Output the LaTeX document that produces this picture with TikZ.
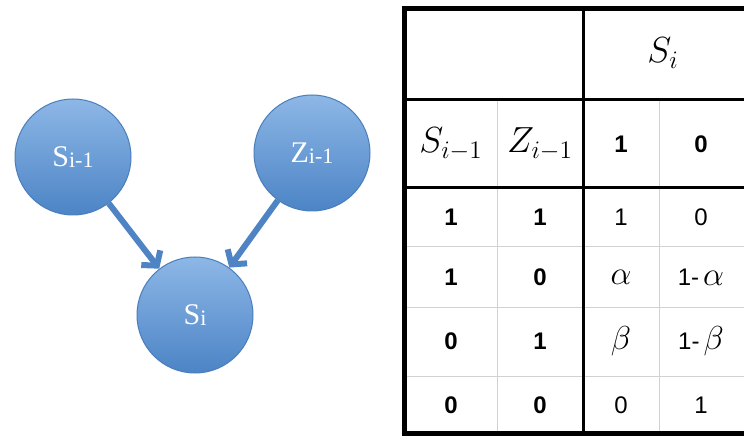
\documentclass[tikz,border=0pt]{standalone}
\usepackage{fontspec}
\setmainfont{Liberation Serif}
\setsansfont{Liberation Sans}
\usetikzlibrary{arrows.meta}
\definecolor{balltop}{HTML}{8DB7E6}
\definecolor{ballbot}{HTML}{4C84C6}
\definecolor{ballline}{HTML}{4A7EBB}
\definecolor{edgeblue}{HTML}{4F84C4}
\definecolor{gridgray}{HTML}{D2D2D2}
\newcommand{\bigsym}[1]{\scalebox{1.75}{\fontsize{20.74}{24}\selectfont$#1$}}
\newcommand{\greekcell}[1]{\scalebox{1.6}{\fontsize{20.74}{24}\selectfont$#1$}}

\begin{document}
\begin{tikzpicture}[x=1pt,y=-1pt,
  ball/.style={circle, minimum size=116pt, inner sep=0pt, draw=ballline, line width=1pt,
    top color=balltop, bottom color=ballbot, text=white, font=\fontsize{30}{30}\selectfont},
  link/.style={edgeblue, line width=6pt, -{Straight Barb[length=10pt,width=24pt]}},
  num/.style={font=\sffamily\bfseries\fontsize{24}{24}\selectfont},
  prob/.style={font=\sffamily\fontsize{24}{24}\selectfont}]
  \useasboundingbox (0,0) rectangle (744,438);
  % Network
  \node[ball] (sprev) at (73,157) {S\raisebox{-1.5pt}{\fontsize{22}{22}\selectfont i-1}};
  \node[ball] (zprev) at (312,153) {Z\raisebox{-1.5pt}{\fontsize{22}{22}\selectfont i-1}};
  \node[ball] (scur) at (195,315) {S\raisebox{-1.5pt}{\fontsize{22}{22}\selectfont i}};
  \draw[link] (sprev) -- (scur);
  \draw[link] (zprev) -- (scur);
  % Table grid
  \draw[gridgray, line width=1pt] (497,100) -- (497,434) (659,100) -- (659,434);
  \foreach \y in {247,307,376}
    \draw[gridgray, line width=1pt] (405,\y) -- (744,\y);
  \draw[line width=3pt] (583,8) -- (583,434);
  \draw[line width=3pt] (405,100) -- (744,100) (405,188) -- (744,188);
  \draw[line width=4.5pt] (744,8.5) -- (404.5,8.5) -- (404.5,433.5) -- (744,433.5);
  % Table header
  \node (head) at (663,53) {\bigsym{S_i}};
  \node (hs) at (451,144) {\bigsym{S_{i-1}}};
  \node (hz) at (540,144) {\bigsym{Z_{i-1}}};
  \node[num] (hone) at (621,144) {1};
  \node[num] (hzero) at (701,144) {0};
  % Table rows
  \foreach \a/\b/\p/\q/\y [count=\r] in {1/1/1/0/217,
      1/0/{\greekcell{\alpha}}/{1-\,\greekcell{\alpha}}/277,
      0/1/{\greekcell{\beta}}/{1-\,\greekcell{\beta}}/341,
      0/0/0/1/405} {
    \node[num] (s\r) at (451,\y) {\a};
    \node[num] (z\r) at (540,\y) {\b};
    \node[prob] (p\r) at (621,\y) {\p};
    \node[prob] (q\r) at (701,\y) {\q};
  }
\end{tikzpicture}
\end{document}
